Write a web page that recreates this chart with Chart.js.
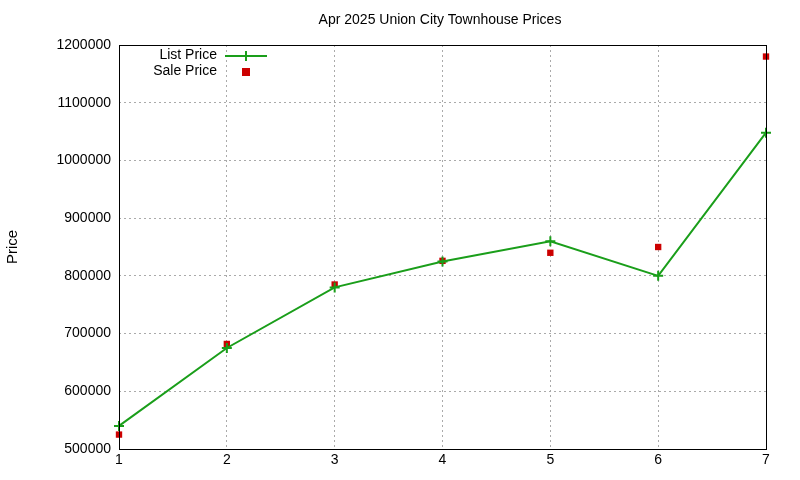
<!DOCTYPE html>
<html><head><script src="https://cdn.jsdelivr.net/npm/chart.js@4"></script>
<style>body{margin:0;background:#fff}</style></head>
<body><div style="width:800px;height:480px"><canvas id="c" width="800" height="480"></canvas></div>
<script>
const categories=[1,2,3,4,5,6,7];
const listPrice=[540000,675000,780000,825000,860000,800000,1048000];
const salePrice=[525000,682000,785000,826000,840000,850000,1180000];
const FONT='"Liberation Sans", Arial, sans-serif';
const deco={id:'deco',afterDraw(ch){const c=ch.ctx,a=ch.chartArea;c.save();
c.strokeStyle='#000';c.lineWidth=1;c.strokeRect(a.left+0.5,a.top+0.5,a.right-a.left,a.bottom-a.top);
c.fillStyle='#000';c.font='14px '+FONT;c.textAlign='center';c.textBaseline='middle';
c.fillText('Apr 2025 Union City Townhouse Prices',440,20);
c.textAlign='right';c.fillText('List Price',217,55);c.fillText('Sale Price',217,71);
c.strokeStyle='#1a9e1a';c.lineWidth=2;c.beginPath();c.moveTo(225,56);c.lineTo(267,56);c.stroke();
c.beginPath();c.moveTo(246,51);c.lineTo(246,61);c.moveTo(241,56);c.lineTo(251,56);c.stroke();
c.fillStyle='#cc0000';c.fillRect(242,68,8,8);
c.restore();}};
new Chart(document.getElementById('c'),{
data:{datasets:[
{type:'line',label:'List Price',data:categories.map((x,i)=>({x,y:listPrice[i]})),borderColor:'#1a9e1a',borderWidth:2,pointStyle:'cross',pointRadius:5,pointBorderWidth:2,pointBorderColor:'#1a9e1a',tension:0,clip:false},
{type:'scatter',label:'Sale Price',data:categories.map((x,i)=>({x,y:salePrice[i]})),pointStyle:'rect',pointRadius:4.5,backgroundColor:'#cc0000',borderColor:'#cc0000',borderWidth:0,clip:false}
]},
options:{responsive:false,animation:false,layout:{padding:{top:45,right:34,left:0,bottom:0}},
plugins:{legend:{display:false},tooltip:{enabled:false}},
scales:{
x:{type:'linear',min:1,max:7,afterFit:s=>{s.height=31},
ticks:{stepSize:1,color:'#000',font:{family:FONT,size:14}},
grid:{color:'#aaa',drawTicks:false},border:{display:false,dash:[2,3]}},
y:{min:500000,max:1200000,afterFit:s=>{s.width=119},
title:{display:true,text:'Price',color:'#000',font:{family:FONT,size:15}},
ticks:{stepSize:100000,color:'#000',font:{family:FONT,size:14},padding:8,callback:v=>String(v)},
grid:{color:'#aaa',drawTicks:false},border:{display:false,dash:[2,3]}}
}},plugins:[deco]});
</script></body></html>
